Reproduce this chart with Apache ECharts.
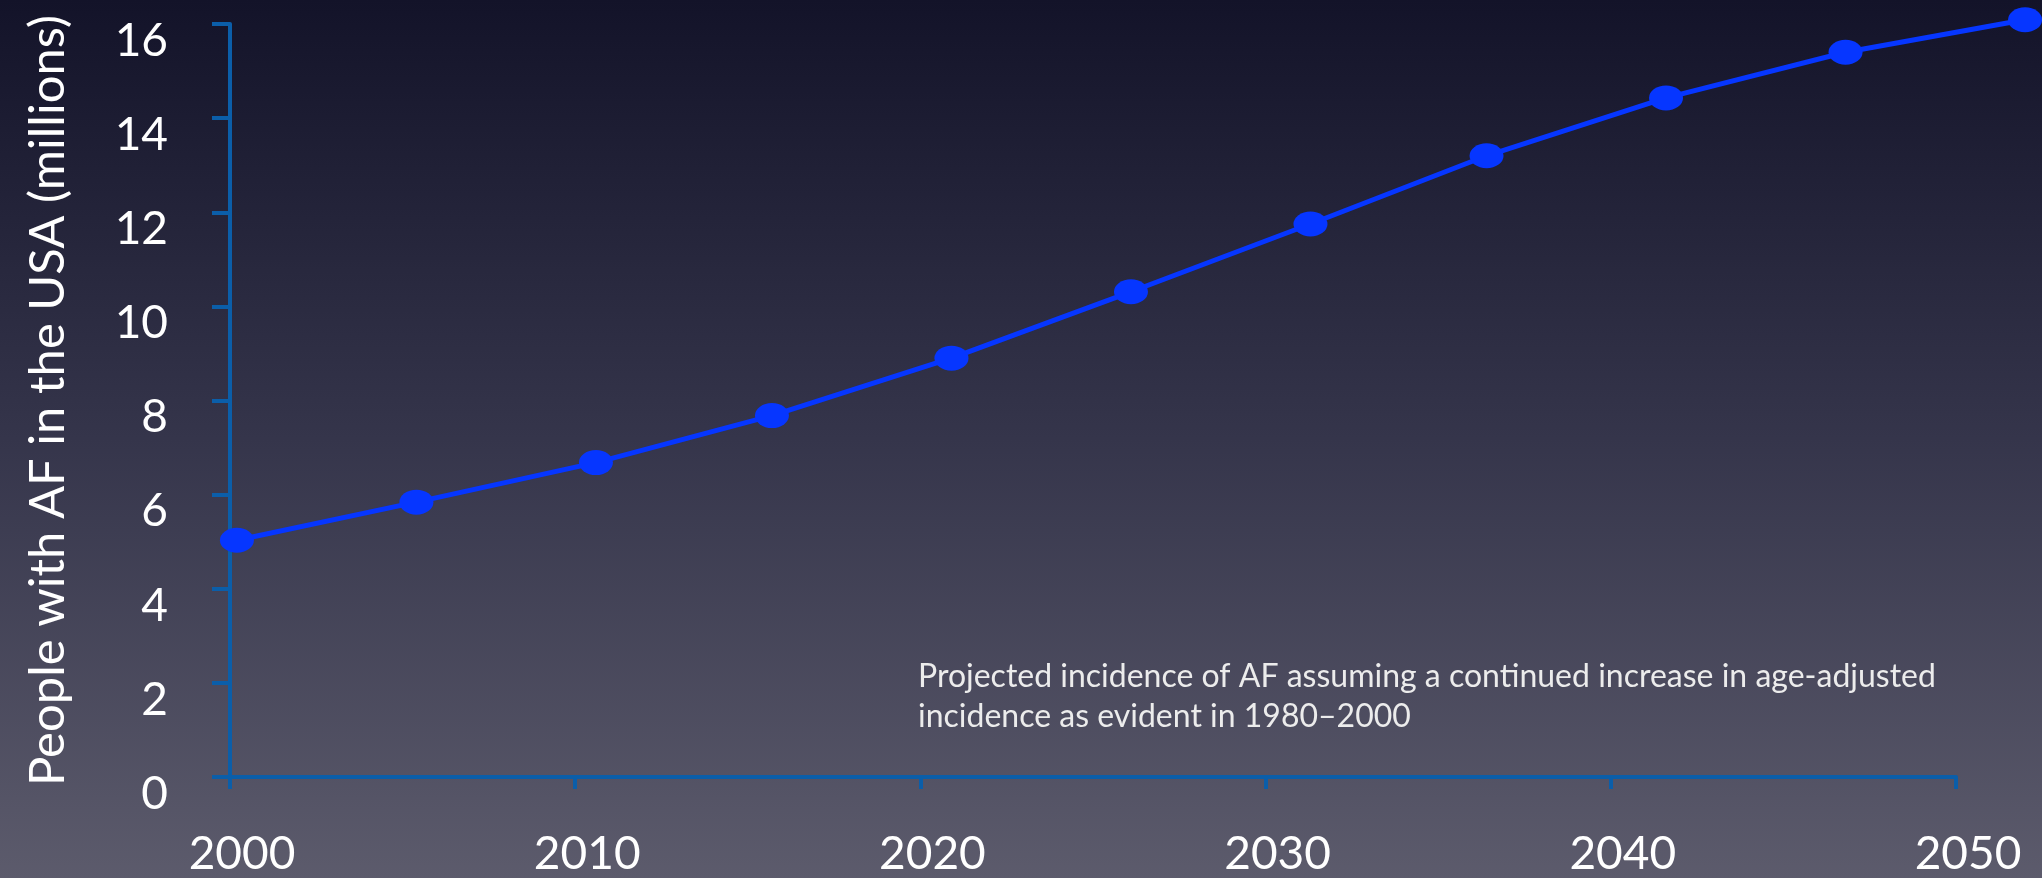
<!DOCTYPE html>
<html>
<head>
<meta charset="utf-8">
<title>Projected number of people with AF in the USA</title>
<script src="https://cdn.jsdelivr.net/npm/echarts@6/dist/echarts.min.js"></script>
<style>
  html, body { margin: 0; padding: 0; width: 100%; height: 100%; overflow: hidden; }
  #chart { width: 2042px; height: 878px; }
</style>
</head>
<body>
<div id="chart"></div>
<script>
// Plotted positions along the year axis for each projection point
const pointYears = [2000.2, 2005.4, 2010.6, 2015.7, 2020.9, 2026.1, 2031.3, 2036.4, 2041.6, 2046.8, 2052.0];
// People with AF in the USA, millions
const peopleMillions = [5.03, 5.84, 6.68, 7.68, 8.90, 10.31, 11.75, 13.20, 14.43, 15.40, 16.09];

const yAxisTitle = 'People with AF in the USA (millions)';
const noteLines = [
  'Projected incidence of AF assuming a continued increase in age-adjusted',
  'incidence as evident in 1980\u20132000'
];

const axisBlue = '#0b5ea9';
const seriesBlue = '#0636ff';
const fontFamily = 'Lato, "Open Sans", "Noto Sans", sans-serif';

// Plot area layout (px)
const W = 2042;
const gridLeft = 230, gridRight = 86, gridTop = 24, gridBottom = 101;
const yearMin = 2000, yearMax = 2050;
// The line overlay uses the same year scale but runs to the right edge,
// so the last point past 2050 keeps its connecting segment.
const plotWidth = W - gridLeft - gridRight;
const overlayWidth = W - gridLeft;
const overlayYearMax = yearMin + (yearMax - yearMin) * overlayWidth / plotWidth;

const chart = echarts.init(document.getElementById('chart'));

chart.setOption({
  animation: false,
  backgroundColor: {
    type: 'linear', x: 0, y: 0, x2: 0, y2: 1,
    colorStops: [
      { offset: 0, color: '#131329' },
      { offset: 0.5, color: '#35354b' },
      { offset: 1, color: '#5c5b6c' }
    ]
  },
  grid: [
    { left: gridLeft, right: gridRight, top: gridTop, bottom: gridBottom },
    { left: gridLeft, right: 0, top: gridTop, bottom: gridBottom }
  ],
  xAxis: [{
    gridIndex: 0,
    type: 'value',
    min: yearMin,
    max: yearMax,
    interval: 10,
    axisLine: { show: true, onZero: false, lineStyle: { color: axisBlue, width: 4 } },
    axisTick: { show: true, length: 12, lineStyle: { color: axisBlue, width: 4 } },
    splitLine: { show: false },
    axisLabel: {
      color: '#ffffff',
      fontFamily: fontFamily,
      fontSize: 46,
      margin: 54,
      padding: [0, 0, 0, 24],
      formatter: v => String(v)
    }
  }, {
    gridIndex: 1,
    type: 'value',
    min: yearMin,
    max: overlayYearMax,
    show: false
  }],
  yAxis: [{
    gridIndex: 0,
    type: 'value',
    min: 0,
    max: 16,
    interval: 2,
    name: yAxisTitle,
    nameLocation: 'middle',
    nameGap: 157,
    nameTextStyle: { color: '#ffffff', fontFamily: fontFamily, fontSize: 49 },
    axisLine: { show: true, lineStyle: { color: axisBlue, width: 4 } },
    axisTick: { show: true, length: 18, lineStyle: { color: axisBlue, width: 4 } },
    splitLine: { show: false },
    axisLabel: {
      color: '#ffffff',
      fontFamily: fontFamily,
      fontSize: 46,
      margin: 62,
      verticalAlign: 'top',
      lineHeight: 34
    }
  }, {
    gridIndex: 1,
    type: 'value',
    min: 0,
    max: 16,
    show: false
  }],
  series: [{
    type: 'line',
    xAxisIndex: 1,
    yAxisIndex: 1,
    data: pointYears.map((yr, i) => [yr, peopleMillions[i]]),
    clip: false,
    symbol: 'circle',
    symbolSize: [34, 25],
    lineStyle: { color: seriesBlue, width: 5 },
    itemStyle: { color: seriesBlue },
    z: 3
  }],
  graphic: [{
    type: 'text',
    left: 918,
    top: 657,
    style: {
      text: noteLines.join('\n'),
      fill: '#ececec',
      font: '32px ' + fontFamily,
      lineHeight: 40
    }
  }]
});
</script>
</body>
</html>
